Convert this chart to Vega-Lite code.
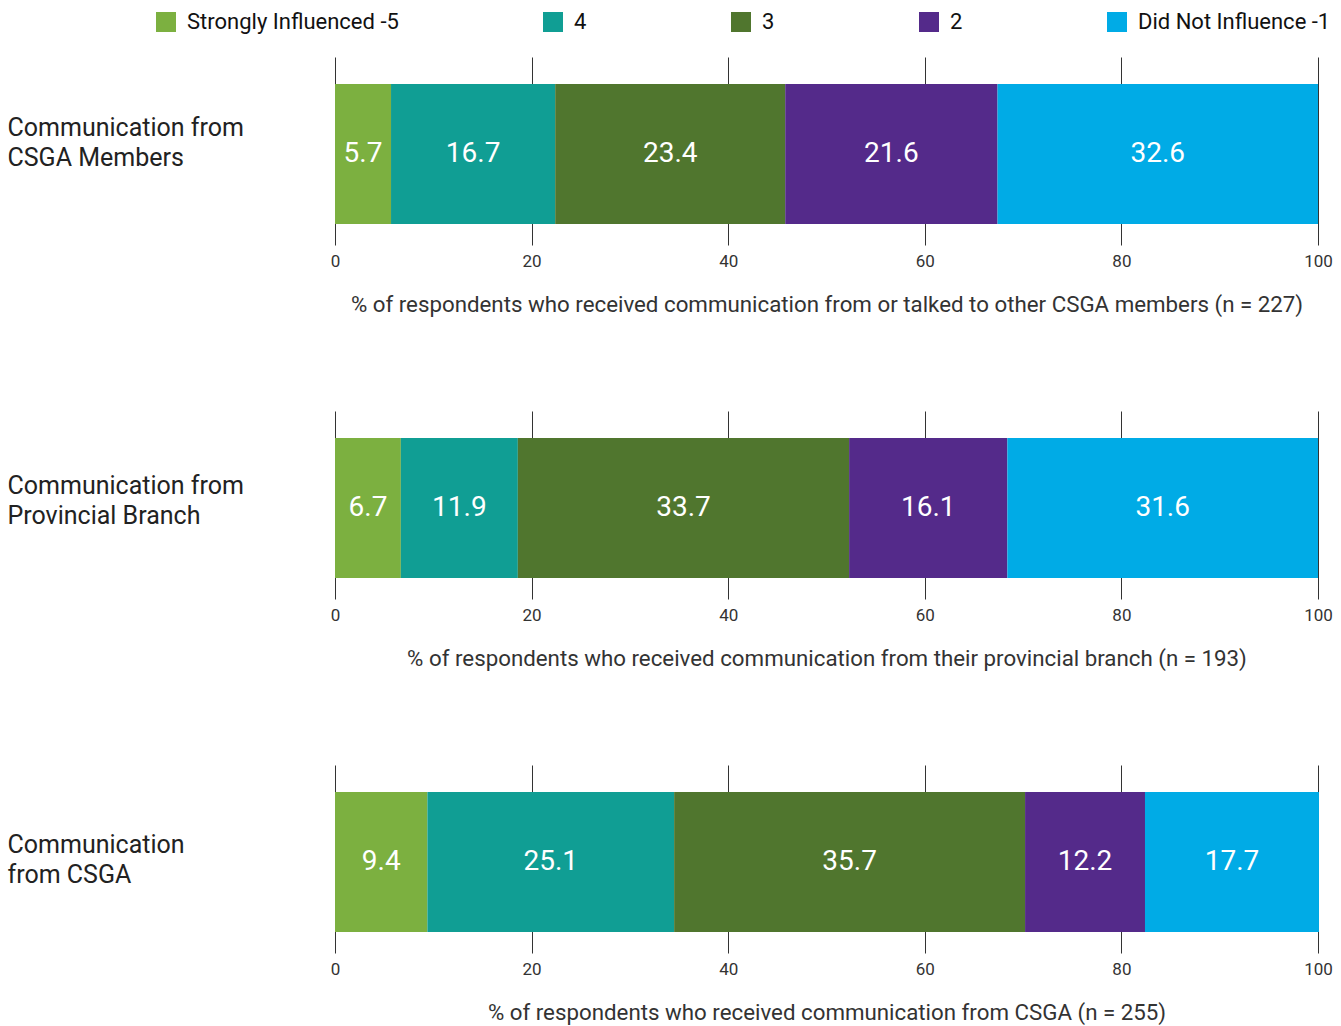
{
  "$schema": "https://vega.github.io/schema/vega-lite/v6.json",
  "padding": {"left": 7, "top": 11, "right": 5, "bottom": 5},
  "background": "white",
  "config": {
    "font": "Roboto",
    "view": {"stroke": null},
    "axis": {"labelFont": "Roboto", "titleFont": "Roboto"},
    "legend": {"labelFont": "Roboto"}
  },
  "datasets": {
    "d": [
      {"panel": 1, "source": "Communication from|CSGA Members", "rating": "Strongly Influenced -5", "rank": 1, "pct": 5.7},
      {"panel": 1, "source": "Communication from|CSGA Members", "rating": "4", "rank": 2, "pct": 16.7},
      {"panel": 1, "source": "Communication from|CSGA Members", "rating": "3", "rank": 3, "pct": 23.4},
      {"panel": 1, "source": "Communication from|CSGA Members", "rating": "2", "rank": 4, "pct": 21.6},
      {"panel": 1, "source": "Communication from|CSGA Members", "rating": "Did Not Influence -1", "rank": 5, "pct": 32.6},
      {"panel": 2, "source": "Communication from|Provincial Branch", "rating": "Strongly Influenced -5", "rank": 1, "pct": 6.7},
      {"panel": 2, "source": "Communication from|Provincial Branch", "rating": "4", "rank": 2, "pct": 11.9},
      {"panel": 2, "source": "Communication from|Provincial Branch", "rating": "3", "rank": 3, "pct": 33.7},
      {"panel": 2, "source": "Communication from|Provincial Branch", "rating": "2", "rank": 4, "pct": 16.1},
      {"panel": 2, "source": "Communication from|Provincial Branch", "rating": "Did Not Influence -1", "rank": 5, "pct": 31.6},
      {"panel": 3, "source": "Communication|from CSGA", "rating": "Strongly Influenced -5", "rank": 1, "pct": 9.4},
      {"panel": 3, "source": "Communication|from CSGA", "rating": "4", "rank": 2, "pct": 25.1},
      {"panel": 3, "source": "Communication|from CSGA", "rating": "3", "rank": 3, "pct": 35.7},
      {"panel": 3, "source": "Communication|from CSGA", "rating": "2", "rank": 4, "pct": 12.2},
      {"panel": 3, "source": "Communication|from CSGA", "rating": "Did Not Influence -1", "rank": 5, "pct": 17.7}
    ]
  },
  "data": {"name": "d"},
  "spacing": 95,
  "vconcat": [
    {
      "width": 983, "height": 188,
      "transform": [{"filter": "datum.panel == 1"}],
      "encoding": {
        "y": {"field": "source", "type": "nominal", "title": null,
          "axis": {"domain": false, "ticks": false, "labelAlign": "left", "labelPadding": 328, "labelFontSize": 25, "labelLimit": 0, "labelExpr": "split(datum.label, '|')", "labelLineHeight": 30, "labelColor": "#222", "labelOffset": -23}}
      },
      "layer": [
        {
          "mark": {"type": "bar", "size": 140, "yOffset": 3},
          "encoding": {
            "x": {"field": "pct", "type": "quantitative", "stack": "zero", "scale": {"domain": [0, 100], "nice": false},
              "title": "% of respondents who received communication from or talked to other CSGA members (n = 227)",
              "axis": {"values": [0, 20, 40, 60, 80, 100], "grid": true, "gridColor": "#333", "domain": false, "ticks": false, "labelFlush": false, "labelFontSize": 17, "labelColor": "#333", "labelPadding": 8, "titleFontSize": 22.3, "titleFontWeight": "normal", "titleColor": "#333", "titlePadding": 24}},
            "color": {"field": "rating", "type": "nominal",
              "scale": {"domain": ["Strongly Influenced -5", "4", "3", "2", "Did Not Influence -1"], "range": ["#7CB040", "#109E94", "#50762E", "#542A8A", "#00ABE6"]},
              "legend": {"orient": "none", "legendX": -180, "legendY": -46, "direction": "horizontal", "columns": 5, "title": null, "symbolType": "square", "symbolSize": 400, "symbolStrokeWidth": 0, "labelFontSize": 22, "labelLimit": 0, "labelColor": "#111", "columnPadding": 143, "labelOffset": 10}},
            "order": {"field": "rank"}
          }
        },
        {
          "transform": [
            {"stack": "pct", "groupby": ["source"], "sort": [{"field": "rank"}], "as": ["x0", "x1"]},
            {"calculate": "(datum.x0 + datum.x1) / 2", "as": "mid"}
          ],
          "mark": {"type": "text", "color": "white", "fontSize": 28, "yOffset": 3},
          "encoding": {
            "x": {"field": "mid", "type": "quantitative"},
            "text": {"field": "pct", "type": "quantitative", "format": ".1f"}
          }
        }
      ]
    },
    {
      "width": 983, "height": 188,
      "transform": [{"filter": "datum.panel == 2"}],
      "encoding": {
        "y": {"field": "source", "type": "nominal", "title": null,
          "axis": {"domain": false, "ticks": false, "labelAlign": "left", "labelPadding": 328, "labelFontSize": 25, "labelLimit": 0, "labelExpr": "split(datum.label, '|')", "labelLineHeight": 30, "labelColor": "#222", "labelOffset": -19}}
      },
      "layer": [
        {
          "mark": {"type": "bar", "size": 140, "yOffset": 3},
          "encoding": {
            "x": {"field": "pct", "type": "quantitative", "stack": "zero", "scale": {"domain": [0, 100], "nice": false},
              "title": "% of respondents who received communication from their provincial branch (n = 193)",
              "axis": {"values": [0, 20, 40, 60, 80, 100], "grid": true, "gridColor": "#333", "domain": false, "ticks": false, "labelFlush": false, "labelFontSize": 17, "labelColor": "#333", "labelPadding": 8, "titleFontSize": 22.3, "titleFontWeight": "normal", "titleColor": "#333", "titlePadding": 24}},
            "color": {"field": "rating", "type": "nominal"},
            "order": {"field": "rank"}
          }
        },
        {
          "transform": [
            {"stack": "pct", "groupby": ["source"], "sort": [{"field": "rank"}], "as": ["x0", "x1"]},
            {"calculate": "(datum.x0 + datum.x1) / 2", "as": "mid"}
          ],
          "mark": {"type": "text", "color": "white", "fontSize": 28, "yOffset": 3},
          "encoding": {
            "x": {"field": "mid", "type": "quantitative"},
            "text": {"field": "pct", "type": "quantitative", "format": ".1f"}
          }
        }
      ]
    },
    {
      "width": 983, "height": 188,
      "transform": [{"filter": "datum.panel == 3"}],
      "encoding": {
        "y": {"field": "source", "type": "nominal", "title": null,
          "axis": {"domain": false, "ticks": false, "labelAlign": "left", "labelPadding": 328, "labelFontSize": 25, "labelLimit": 0, "labelExpr": "split(datum.label, '|')", "labelLineHeight": 30, "labelColor": "#222", "labelOffset": -14}}
      },
      "layer": [
        {
          "mark": {"type": "bar", "size": 140, "yOffset": 3},
          "encoding": {
            "x": {"field": "pct", "type": "quantitative", "stack": "zero", "scale": {"domain": [0, 100], "nice": false},
              "title": "% of respondents who received communication from CSGA (n = 255)",
              "axis": {"values": [0, 20, 40, 60, 80, 100], "grid": true, "gridColor": "#333", "domain": false, "ticks": false, "labelFlush": false, "labelFontSize": 17, "labelColor": "#333", "labelPadding": 8, "titleFontSize": 22.3, "titleFontWeight": "normal", "titleColor": "#333", "titlePadding": 24}},
            "color": {"field": "rating", "type": "nominal"},
            "order": {"field": "rank"}
          }
        },
        {
          "transform": [
            {"stack": "pct", "groupby": ["source"], "sort": [{"field": "rank"}], "as": ["x0", "x1"]},
            {"calculate": "(datum.x0 + datum.x1) / 2", "as": "mid"}
          ],
          "mark": {"type": "text", "color": "white", "fontSize": 28, "yOffset": 3},
          "encoding": {
            "x": {"field": "mid", "type": "quantitative"},
            "text": {"field": "pct", "type": "quantitative", "format": ".1f"}
          }
        }
      ]
    }
  ]
}
